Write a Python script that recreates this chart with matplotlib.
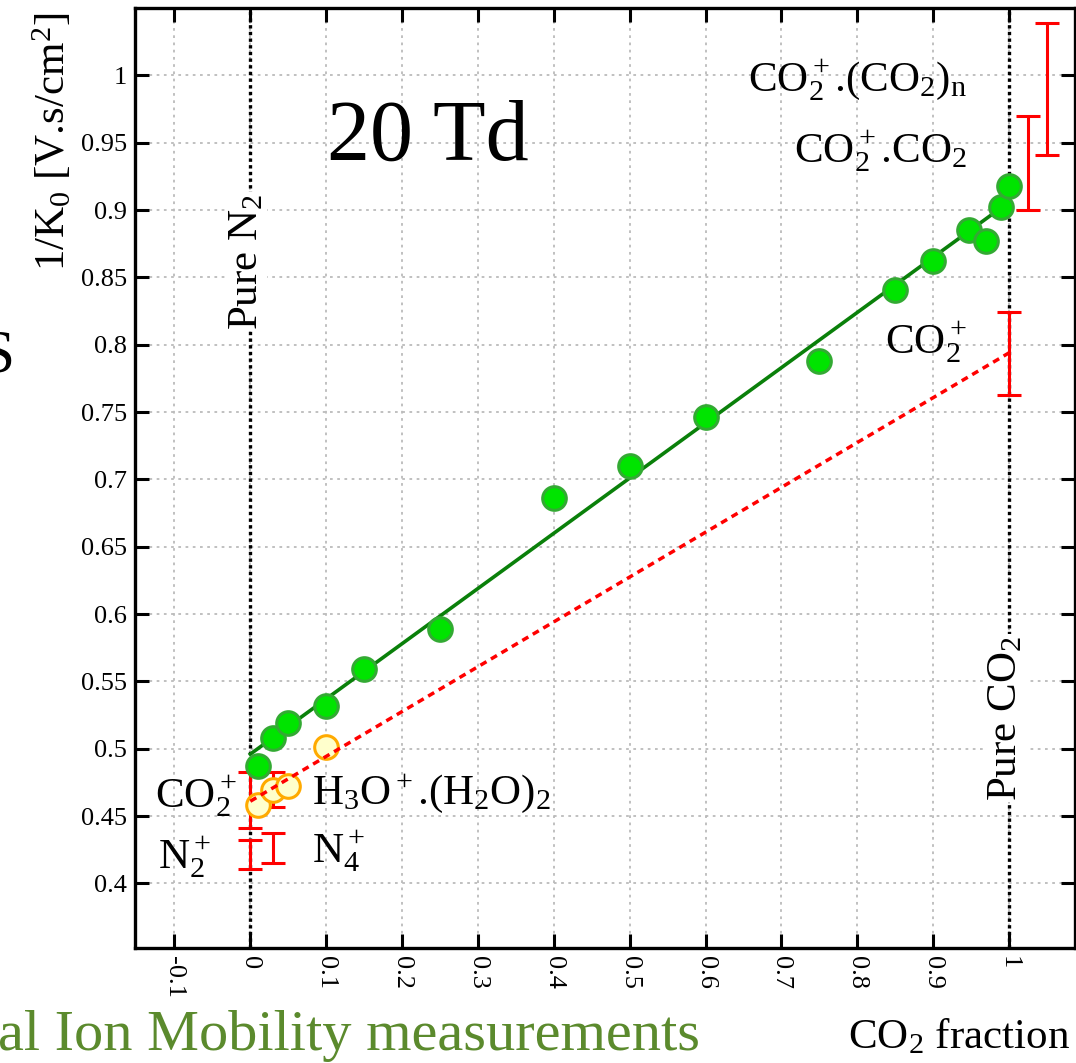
import numpy as np
import matplotlib
matplotlib.use('Agg')
import matplotlib.pyplot as plt

plt.rcParams['font.family'] = ['Liberation Serif', 'DejaVu Serif']
plt.rcParams['mathtext.fontset'] = 'custom'
plt.rcParams['mathtext.rm'] = 'Liberation Serif'
plt.rcParams['mathtext.it'] = 'Liberation Serif:italic'
plt.rcParams['mathtext.bf'] = 'Liberation Serif:bold'

# measured 1/K0 vs CO2 fraction (green points)
frac = [0.01, 0.03, 0.05, 0.1, 0.15, 0.25, 0.4, 0.5, 0.6, 0.75, 0.85, 0.9, 0.947, 0.97, 0.989, 1.0]
invk = [0.487, 0.508, 0.519, 0.532, 0.559, 0.589, 0.686, 0.710, 0.746, 0.788, 0.841, 0.862, 0.885, 0.877, 0.902, 0.918]

# water cluster points (open orange)
frac_w = [0.01, 0.03, 0.05, 0.1]
invk_w = [0.458, 0.469, 0.472, 0.501]

# linear fit and Blanc law line
fit_x = [0.0, 1.0]
fit_y = [0.496, 0.906]
blanc_x = [0.0, 1.0]
blanc_y = [0.461, 0.794]

# literature ranges for the ions (red bars)
ion_x = [0.0, 0.03, 0.0, 0.03, 1.0, 1.025, 1.05]
ion_lo = [0.441, 0.4566, 0.4106, 0.4154, 0.7626, 0.8998, 0.9412]
ion_hi = [0.483, 0.4827, 0.4321, 0.4377, 0.8247, 0.9697, 1.0392]

xticks = [-0.1, 0, 0.1, 0.2, 0.3, 0.4, 0.5, 0.6, 0.7, 0.8, 0.9, 1]
xlabels = ['-0.1', '0', '0.1', '0.2', '0.3', '0.4', '0.5', '0.6', '0.7', '0.8', '0.9', '1']
yticks = [0.4, 0.45, 0.5, 0.55, 0.6, 0.65, 0.7, 0.75, 0.8, 0.85, 0.9, 0.95, 1]
ylabels = ['0.4', '0.45', '0.5', '0.55', '0.6', '0.65', '0.7', '0.75', '0.8', '0.85', '0.9', '0.95', '1']

fig = plt.figure(figsize=(10.76, 10.63), dpi=100)
ax = fig.add_axes([135/1076, 1-948/1063, 940/1076, 940.5/1063])
ax.set_xlim(-0.152, 1.087)
ax.set_ylim(0.352, 1.0505)

ax.set_xticks(xticks)
ax.set_xticklabels(xlabels, rotation=-90, fontsize=19, va='top', ha='center')
ax.set_yticks(yticks)
ax.set_yticklabels(ylabels, fontsize=19)
ax.tick_params(direction='in', length=10, width=2.2, top=True, right=True, pad=6)
for s in ax.spines.values():
    s.set_linewidth(2.4)

ax.grid(True, color='#bbbbbb', linestyle=(0, (1.5, 2.5)), linewidth=1.3, zorder=0)
ax.set_axisbelow(True)

# pure gas markers
for xv in [0, 1]:
    ax.axvline(xv, color='black', linestyle=(0, (1, 1)), linewidth=2.4, zorder=1)

yc = (np.array(ion_lo) + np.array(ion_hi)) / 2
ye = (np.array(ion_hi) - np.array(ion_lo)) / 2
ax.errorbar(ion_x, yc, yerr=ye, fmt='none', ecolor='red', elinewidth=2.2,
            capsize=8.6, capthick=2.2, zorder=2)

ax.plot(fit_x, fit_y, color='#0a800a', linewidth=2.6, zorder=3)
ax.plot(frac, invk, 'o', markersize=17, markerfacecolor='#00e400',
        markeredgecolor='#33aa33', markeredgewidth=2.2, zorder=4)
ax.plot(frac_w, invk_w, 'o', markersize=17, markerfacecolor='#ffffcc',
        markeredgecolor='#ffaa00', markeredgewidth=2.2, zorder=4)
ax.plot(blanc_x, blanc_y, color='red', linestyle=(0, (2, 1.5)), linewidth=2.5, zorder=5)

# ion labels
fs = 31
ax.text(0.9446, 0.988, r'CO$_2^+$.(CO$_2$)$_\mathrm{n}$', fontsize=fs, ha='right', va='baseline')
ax.text(0.9446, 0.9353, r'CO$_2^+$.CO$_2$', fontsize=fs, ha='right', va='baseline')
ax.text(0.9446, 0.7939, r'CO$_2^+$', fontsize=fs, ha='right', va='baseline')
ax.text(-0.0178, 0.4563, r'CO$_2^+$', fontsize=fs, ha='right', va='baseline')
ax.text(-0.122, 0.4107, r'N$_2^+$', fontsize=fs, ha='left', va='baseline')
ax.text(0.0811, 0.459, r'H$_3$O$^+$.(H$_2$O)$_2$', fontsize=fs, ha='left', va='baseline')
ax.text(0.0811, 0.4152, r'N$_4^+$', fontsize=fs, ha='left', va='baseline')

ax.text(0.1009, 0.9375, '20 Td', fontsize=62, ha='left', va='baseline')

box = dict(facecolor='white', edgecolor='none', pad=1)
ax.text(0.0086, 0.811, r'Pure N$_2$', fontsize=fs, rotation=90,
        rotation_mode='anchor', ha='left', va='baseline', bbox=box, zorder=6)
ax.text(1.0101, 0.4613, r'Pure CO$_2$', fontsize=fs, rotation=90,
        rotation_mode='anchor', ha='left', va='baseline', bbox=box, zorder=6)

# axis titles
fig.text(65/1076, 1-13/1063, r'1/K$_0$ [V.s/cm$^2$]', fontsize=fs, rotation=90,
         rotation_mode='anchor', ha='right', va='baseline')
fig.text(1070/1076, 1-1048/1063, r'CO$_2$ fraction', fontsize=fs,
         ha='right', va='baseline')

fig.text(15/1076, 1-372/1063, 'S', fontsize=44, ha='right', va='baseline')
fig.text(-0.002, 1-1050/1063, 'al Ion Mobility measurements', fontsize=42,
         color='#5b8a2d', ha='left', va='baseline')

fig.savefig('out.png', dpi=100)
